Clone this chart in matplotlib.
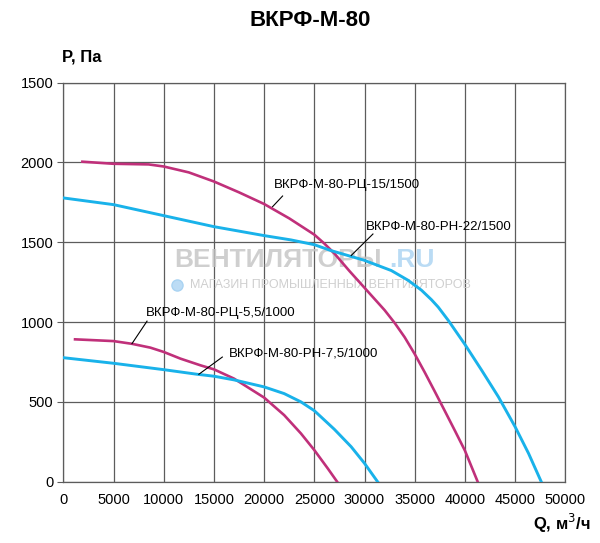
import matplotlib
matplotlib.use("Agg")
import matplotlib.pyplot as plt

plt.rcParams['font.family'] = ['Liberation Sans', 'DejaVu Sans']

# ВКРФ-М-80-РЦ-15/1500
q_rc15 = [1900, 5000, 8500, 10000, 12500, 15000, 17500, 20000, 22500, 25000, 26000, 27000,
          28500, 30000, 31000, 32000, 33000, 34000, 35000, 36000, 37000, 38000, 39000,
          40000, 41270]
p_rc15 = [2005, 1992, 1988, 1975, 1938, 1881, 1813, 1740, 1650, 1548, 1492, 1430,
          1320, 1215, 1145, 1075, 995, 905, 800, 685, 565, 443, 320,
          195, 0]

# ВКРФ-М-80-РН-22/1500
q_rn22 = [0, 5000, 10000, 15000, 20000, 22670, 25000, 26670, 29940, 32670, 34340, 35670,
          36670, 37340, 38340, 40000, 41670, 43340, 45000, 46340, 47600]
p_rn22 = [1778, 1736, 1667, 1598, 1542, 1515, 1485, 1448, 1388, 1323, 1262, 1200,
          1140, 1094, 1011, 860, 698, 531, 344, 177, 0]

# ВКРФ-М-80-РЦ-5,5/1000
q_rc55 = [1170, 5000, 6830, 8670, 10000, 11670, 13670, 15000, 17000, 20000, 22000, 23670,
          25000, 26340, 27270]
p_rc55 = [892, 881, 864, 840, 813, 771, 729, 704, 646, 527, 417, 302,
          198, 83, 0]

# ВКРФ-М-80-РН-7,5/1000
q_rn75 = [0, 5000, 10000, 13340, 15000, 17000, 20000, 22000, 23670, 25000, 27000, 28670,
          30000, 31300]
p_rn75 = [777, 742, 702, 673, 661, 638, 594, 552, 500, 445, 328, 219,
          115, 0]

x_ticks = [0, 5000, 10000, 15000, 20000, 25000, 30000, 35000, 40000, 45000, 50000]
y_ticks = [0, 500, 1000, 1500, 2000, 2500]
y_labels = ['0', '500', '1000', '1500', '2000', '1500']

magenta = '#c0307a'
cyan = '#19b2ea'
grid_c = '#5c5c5c'

fig = plt.figure(figsize=(6.0, 5.43), dpi=100)
ax = fig.add_axes([0.1055, 0.1129, 0.8367, 0.7348])

# watermark
ax.text(0.221, 0.555, 'ВЕНТИЛЯТОРЫ', transform=ax.transAxes, fontsize=19, fontweight='bold',
        color='#c4c4c4', alpha=0.8, ha='left', va='center', zorder=1)
ax.text(0.65, 0.555, '.RU', transform=ax.transAxes, fontsize=19, fontweight='bold',
        color='#a9d3f2', alpha=0.8, ha='left', va='center', zorder=1)
ax.plot([0.227], [0.492], 'o', transform=ax.transAxes, ms=8, color='#bcdcf5',
        mec='#a9d3f2', zorder=1)
ax.text(0.252, 0.492, 'МАГАЗИН ПРОМЫШЛЕННЫХ ВЕНТИЛЯТОРОВ', transform=ax.transAxes,
        fontsize=9, color='#cfcfcf', ha='left', va='center', zorder=1)

ax.plot(q_rc15, p_rc15, color=magenta, lw=1.9, zorder=3, solid_joinstyle='round')
ax.plot(q_rn22, p_rn22, color=cyan, lw=2.1, zorder=3, solid_joinstyle='round')
ax.plot(q_rc55, p_rc55, color=magenta, lw=1.9, zorder=3, solid_joinstyle='round')
ax.plot(q_rn75, p_rn75, color=cyan, lw=2.1, zorder=3, solid_joinstyle='round')

# labels with leader lines
ax.plot([21840, 20840], [1790, 1723], color='black', lw=0.8, zorder=4)
ax.text(20970, 1860, 'ВКРФ-М-80-РЦ-15/1500', fontsize=9.5, ha='left', va='center', zorder=4)
ax.plot([30840, 28670], [1552, 1417], color='black', lw=0.8, zorder=4)
ax.text(30170, 1598, 'ВКРФ-М-80-РН-22/1500', fontsize=9.5, ha='left', va='center', zorder=4)
ax.plot([8340, 6840], [1006, 865], color='black', lw=0.8, zorder=4)
ax.text(8240, 1056, 'ВКРФ-М-80-РЦ-5,5/1000', fontsize=9.5, ha='left', va='center', zorder=4)
ax.plot([15840, 13500], [781, 673], color='black', lw=0.8, zorder=4)
ax.text(16500, 802, 'ВКРФ-М-80-РН-7,5/1000', fontsize=9.5, ha='left', va='center', zorder=4)

ax.set_xlim(0, 50000)
ax.set_ylim(0, 2500)
ax.set_xticks(x_ticks)
ax.set_xticklabels([str(v) for v in x_ticks])
ax.set_yticks(y_ticks)
ax.set_yticklabels(y_labels)
ax.tick_params(axis='x', length=0, pad=8, labelsize=10.5)
ax.tick_params(axis='y', length=4, color=grid_c, pad=3, labelsize=10.5)
ax.grid(True, color=grid_c, lw=0.9, zorder=2)
ax.set_axisbelow(True)
for s in ax.spines.values():
    s.set_color(grid_c)
    s.set_linewidth(0.9)

fig.text(0.517, 0.963, 'ВКРФ-М-80', fontsize=16, fontweight='bold', ha='center', va='center')
fig.text(0.104, 0.895, 'P, Па', fontsize=12, fontweight='bold', ha='left', va='center')
fig.text(0.985, 0.036, 'Q, м$^3$/ч', fontsize=12, fontweight='bold', ha='right', va='center')

fig.savefig('out.png', dpi=100)
